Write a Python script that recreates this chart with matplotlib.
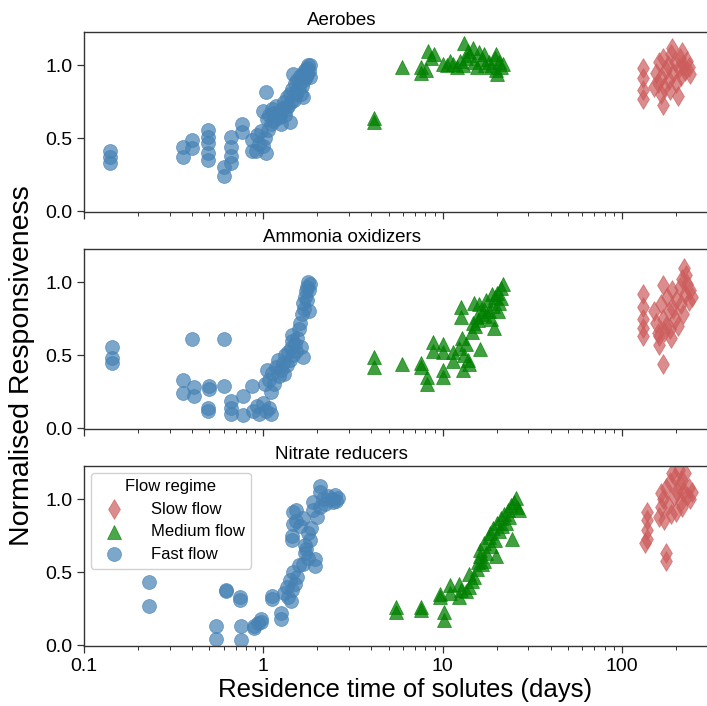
import matplotlib
matplotlib.use("Agg")
import matplotlib.pyplot as plt
from matplotlib.ticker import FixedLocator, FixedFormatter, LogLocator, NullFormatter
import numpy as np

plt.rcParams["font.family"] = ["Liberation Sans", "DejaVu Sans"]

panel_titles = ["Aerobes", "Ammonia oxidizers", "Nitrate reducers"]
regime_labels = ["Slow flow", "Medium flow", "Fast flow"]

# ---- Aerobes ----
aer_fast_x = [0.14, 0.14, 0.14, 0.355, 0.355, 0.40, 0.40, 0.49, 0.49, 0.49, 0.49, 0.49,
              0.60, 0.60, 0.66, 0.66, 0.66, 0.66, 0.76, 0.76, 0.86, 0.86, 0.91, 1.04, 1.04,
              0.92, 0.97, 0.99, 1.02, 1.05, 1.08, 1.10, 1.12, 1.15, 1.18, 1.20, 1.22, 1.25,
              1.28, 1.30, 1.32, 1.35, 1.38, 1.40, 1.41, 1.45, 1.47, 1.48, 1.50, 1.52, 1.55,
              1.58, 1.60, 1.62, 1.67, 1.66, 1.68, 1.70, 1.72, 1.75, 1.78, 1.80, 1.82, 1.82,
              0.95, 1.00, 1.06, 1.13, 1.24, 1.33, 1.43, 1.53, 1.64, 1.74]
aer_fast_y = [0.41, 0.37, 0.33, 0.44, 0.37, 0.49, 0.43, 0.56, 0.51, 0.47, 0.40, 0.35,
              0.30, 0.24, 0.51, 0.44, 0.38, 0.33, 0.60, 0.54, 0.49, 0.41, 0.41, 0.40, 0.82,
              0.52, 0.55, 0.69, 0.50, 0.63, 0.66, 0.60, 0.70, 0.67, 0.72, 0.64, 0.68, 0.60,
              0.71, 0.75, 0.66, 0.78, 0.72, 0.80, 0.61, 0.84, 0.94, 0.76, 0.88, 0.82, 0.90,
              0.86, 0.93, 0.80, 0.78, 0.95, 0.90, 0.97, 0.92, 0.98, 1.00, 0.96, 1.00, 0.92,
              0.46, 0.45, 0.56, 0.62, 0.65, 0.70, 0.75, 0.80, 0.86, 0.94]
aer_med_x = [4.13, 4.13, 5.96, 7.6, 7.6, 8.1, 8.3, 8.9, 8.6, 10.0, 10.5, 11.4, 12.0, 12.5,
             13.2, 13.5, 13.0, 14.0, 14.7, 15.0, 15.5, 16.0, 16.5, 17.2, 17.0, 18.0, 18.5,
             19.5, 19.9, 19.9, 20.5, 21.0, 21.7, 20.0, 13.8, 11.0]
aer_med_y = [0.64, 0.61, 0.99, 0.99, 0.95, 0.97, 1.10, 1.08, 1.05, 1.01, 1.00, 1.01, 0.99, 1.03,
             1.15, 1.05, 1.00, 1.07, 1.12, 1.02, 0.99, 1.09, 1.04, 1.00, 1.08, 1.02, 0.99,
             1.05, 1.08, 0.97, 1.02, 0.99, 1.01, 0.94, 1.10, 1.03]
aer_slow_x = [130.6, 130.6, 130.6, 130.6, 168.7, 155, 158, 160, 165, 170, 172, 175, 180, 183,
              187, 190, 193, 197, 200, 204, 207, 210, 213, 217, 220, 225, 230, 235, 240, 150,
              165, 185]
aer_slow_y = [0.98, 0.91, 0.83, 0.77, 0.73, 0.95, 0.88, 1.02, 0.92, 1.05, 0.85, 0.97, 1.00, 0.90,
              1.08, 1.12, 0.95, 1.02, 0.88, 0.79, 0.98, 1.05, 0.93, 1.09, 1.00, 0.96, 1.03, 0.99,
              0.94, 0.85, 0.80, 0.83]

# ---- Ammonia oxidizers ----
amo_fast_x = [0.144, 0.144, 0.144, 0.40, 0.60, 0.355, 0.355, 0.41, 0.41, 0.50, 0.50, 0.49, 0.49,
              0.60, 0.66, 0.66, 0.66, 0.77, 0.77, 0.86, 0.88, 0.92, 0.95, 1.00, 1.03, 1.08, 1.10,
              1.02, 1.05, 1.08, 1.10, 1.12, 1.15, 1.18, 1.20, 1.22, 1.25, 1.28, 1.30, 1.32, 1.35,
              1.38, 1.40, 1.42, 1.44, 1.44, 1.46, 1.50, 1.52, 1.55, 1.58, 1.60, 1.62, 1.64, 1.66,
              1.66, 1.68, 1.70, 1.72, 1.74, 1.76, 1.78, 1.80, 1.82, 1.80]
amo_fast_y = [0.56, 0.48, 0.45, 0.61, 0.61, 0.33, 0.24, 0.28, 0.22, 0.29, 0.27, 0.14, 0.12,
              0.29, 0.19, 0.14, 0.10, 0.22, 0.09, 0.29, 0.12, 0.15, 0.10, 0.17, 0.12, 0.14, 0.10,
              0.30, 0.40, 0.33, 0.25, 0.38, 0.30, 0.42, 0.47, 0.36, 0.40, 0.45, 0.37, 0.50, 0.43,
              0.52, 0.47, 0.55, 0.60, 0.64, 0.50, 0.58, 0.53, 0.62, 0.68, 0.72, 0.56, 0.78, 0.86,
              0.49, 0.82, 0.90, 0.94, 0.88, 0.97, 1.00, 0.95, 0.99, 0.80]
amo_med_x = [4.13, 4.13, 5.9, 7.6, 7.6, 8.2, 8.2, 8.8, 8.8, 10.0, 10.0, 10.1, 10.1, 11.4, 11.4,
             12.7, 12.7, 12.4, 12.8, 13.2, 13.8, 13.5, 14.1, 14.7, 15.0, 15.5, 16.1, 16.0, 16.5,
             17.0, 17.5, 18.0, 18.5, 19.0, 19.4, 19.5, 20.0, 20.5, 21.0, 21.7, 21.0, 14.5, 15.2,
             13.0, 15.8, 17.2, 18.8, 20.3]
amo_med_y = [0.49, 0.42, 0.44, 0.45, 0.42, 0.35, 0.30, 0.59, 0.53, 0.58, 0.52, 0.40, 0.35, 0.52,
             0.46, 0.83, 0.76, 0.55, 0.62, 0.50, 0.47, 0.58, 0.44, 0.72, 0.86, 0.76, 0.54, 0.85,
             0.78, 0.82, 0.88, 0.80, 0.75, 0.84, 0.69, 0.90, 0.93, 0.86, 0.96, 0.99, 0.89, 0.66,
             0.70, 0.40, 0.74, 0.77, 0.92, 0.80]
amo_slow_x = [130.6, 130.6, 130.6, 130.6, 130.6, 168.7, 168.7, 161, 161, 222, 150, 155, 158,
              165, 170, 175, 178, 182, 185, 190, 193, 197, 200, 205, 210, 213, 217, 220, 225,
              230, 235, 240, 245, 228, 188, 172]
amo_slow_y = [0.92, 0.83, 0.75, 0.69, 0.63, 0.98, 0.44, 0.63, 0.57, 1.10, 0.80, 0.72, 0.65,
              0.85, 0.75, 0.70, 0.90, 0.80, 0.68, 0.95, 0.82, 0.75, 0.88, 0.70, 0.97, 0.85,
              1.02, 0.78, 0.92, 0.99, 0.87, 0.95, 0.90, 1.05, 0.62, 0.66]

# ---- Nitrate reducers ----
nit_fast_x = [0.231, 0.231, 0.542, 0.542, 0.616, 0.616, 0.75, 0.75, 0.74, 0.74, 0.89, 0.89,
              0.97, 0.97, 0.93, 1.12, 1.12, 1.26, 1.26, 1.31, 1.35, 1.38, 1.40, 1.42, 1.45, 1.50,
              1.46, 1.47, 1.47, 1.44, 1.44, 1.53, 1.53, 1.60, 1.67, 1.70, 1.70, 1.72, 1.77, 1.77,
              1.67, 1.82, 1.85, 1.89, 1.90, 1.93, 1.93, 2.00, 2.06, 2.06, 2.06, 2.15, 2.20, 2.30,
              2.40, 2.43, 2.50, 2.55, 2.60, 1.55, 1.58]
nit_fast_y = [0.43, 0.27, 0.135, 0.044, 0.38, 0.37, 0.135, 0.037, 0.33, 0.31, 0.135, 0.12,
              0.18, 0.16, 0.15, 0.34, 0.32, 0.22, 0.18, 0.36, 0.40, 0.33, 0.45, 0.30, 0.38, 0.42,
              0.50, 0.91, 0.83, 0.75, 0.72, 0.93, 0.85, 0.82, 0.87, 0.69, 0.63, 0.66, 0.77, 0.60,
              0.56, 0.72, 0.80, 0.98, 0.93, 0.59, 0.54, 0.88, 1.09, 1.05, 0.95, 1.00, 0.97, 1.02,
              1.00, 0.98, 1.03, 0.99, 1.01, 0.47, 0.55]
nit_med_x = [5.47, 5.47, 7.6, 7.6, 9.6, 9.6, 10.2, 10.2, 11.0, 11.0, 12.4, 12.4, 12.6, 14.1, 14.1,
             13.5, 14.5, 15.0, 15.5, 16.1, 16.1, 16.5, 17.0, 17.5, 18.0, 18.3, 18.5, 19.0, 19.5,
             19.9, 20.0, 20.5, 21.0, 21.5, 22.0, 22.6, 23.0, 23.5, 24.0, 24.4, 25.0, 25.6, 26.0,
             26.5, 17.0, 15.8]
nit_med_y = [0.26, 0.23, 0.26, 0.24, 0.35, 0.33, 0.23, 0.17, 0.41, 0.36, 0.42, 0.33, 0.38, 0.49,
             0.40, 0.37, 0.44, 0.47, 0.52, 0.65, 0.61, 0.56, 0.70, 0.63, 0.74, 0.77, 0.68, 0.80,
             0.72, 0.61, 0.84, 0.78, 0.87, 0.82, 0.90, 0.84, 0.93, 0.88, 0.96, 0.73, 0.98, 1.01,
             0.95, 0.93, 0.58, 0.57]
nit_slow_x = [137, 137, 137, 137, 134, 176, 176, 165, 165, 200, 160, 170, 175, 180, 185, 190,
              195, 198, 202, 207, 210, 213, 217, 220, 225, 230, 235, 240, 245, 188, 172, 215]
nit_slow_y = [0.91, 0.86, 0.79, 0.73, 0.70, 0.63, 0.58, 1.04, 0.95, 0.91, 0.88, 1.00, 1.08, 0.96,
              1.12, 1.18, 1.02, 1.15, 1.05, 1.20, 1.10, 0.98, 1.13, 1.05, 1.18, 1.02, 1.08, 1.00,
              1.05, 0.90, 0.86, 0.95]

panels = [
    ((aer_slow_x, aer_slow_y), (aer_med_x, aer_med_y), (aer_fast_x, aer_fast_y)),
    ((amo_slow_x, amo_slow_y), (amo_med_x, amo_med_y), (amo_fast_x, amo_fast_y)),
    ((nit_slow_x, nit_slow_y), (nit_med_x, nit_med_y), (nit_fast_x, nit_fast_y)),
]

styles = [
    dict(marker="d", color="#CD5C5C", alpha=0.7),
    dict(marker="^", color="#008000", alpha=0.75),
    dict(marker="o", color="#4682B4", alpha=0.7),
]

W, H = 707, 706
fig = plt.figure(figsize=(W / 100, H / 100), dpi=100)

left_px, right_px = 84, 727
tops = [32, 249, 466]
panel_h = 180

x_ticks = [0.1, 1, 10, 100]
x_ticklabels = ["0.1", "1", "10", "100"]
y_ticks = [0.0, 0.5, 1.0]
y_ticklabels = ["0.0", "0.5", "1.0"]

axes = []
for i, top in enumerate(tops):
    ax = fig.add_axes([left_px / W, 1 - (top + panel_h) / H,
                       (right_px - left_px) / W, panel_h / H])
    for (xs, ys), st in zip(panels[i], styles):
        ax.scatter(xs, ys, s=100, marker=st["marker"], color=st["color"],
                   alpha=st["alpha"], edgecolors=st["color"], linewidths=0.6, zorder=2)
    ax.set_xscale("log")
    ax.set_xlim(0.1, 10 ** 2.585)
    ax.set_ylim(-0.005, 1.228)
    ax.xaxis.set_major_locator(FixedLocator(x_ticks))
    ax.xaxis.set_minor_locator(LogLocator(base=10, subs=np.arange(2, 10)))
    ax.xaxis.set_minor_formatter(NullFormatter())
    ax.yaxis.set_major_locator(FixedLocator(y_ticks))
    ax.yaxis.set_major_formatter(FixedFormatter(y_ticklabels))
    if i == 2:
        ax.xaxis.set_major_formatter(FixedFormatter(x_ticklabels))
    else:
        ax.xaxis.set_major_formatter(NullFormatter())
    ax.tick_params(axis="both", which="major", labelsize=14, length=5, width=0.9, color="#333333")
    ax.tick_params(axis="x", which="minor", length=3, width=0.7, color="#333333")
    for sp in ax.spines.values():
        sp.set_color("#333333")
        sp.set_linewidth(1.0)
    ax.set_title(panel_titles[i], fontsize=13.5, x=0.401, pad=5)
    axes.append(ax)

axes[2].set_xlabel("Residence time of solutes (days)", fontsize=18.5, labelpad=2)
fig.text(22 / W, 0.482, "Normalised Responsiveness", rotation=90, fontsize=20.5,
         ha="center", va="center")

leg = axes[2].legend(regime_labels, title="Flow regime", loc="upper left",
                     fontsize=12, title_fontsize=12, borderaxespad=0.4,
                     handletextpad=1.2, markerscale=1.0, framealpha=0.9,
                     labelspacing=0.45)
for h in leg.legend_handles:
    h.set_alpha(0.7)

fig.savefig("out.png", dpi=100)
